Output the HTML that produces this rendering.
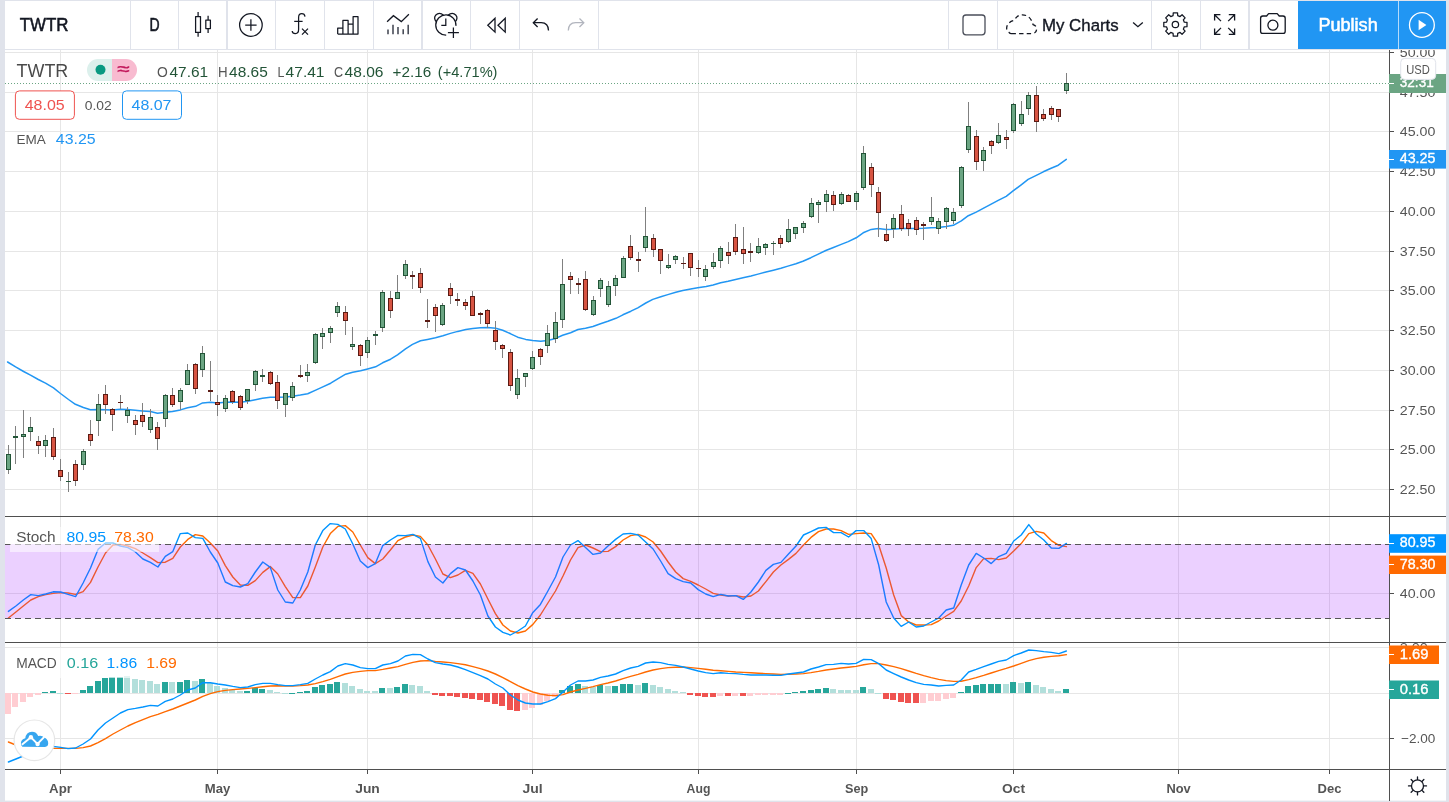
<!DOCTYPE html>
<html lang="en"><head><meta charset="utf-8"><title>TWTR chart</title>
<style>html,body{margin:0;padding:0;background:#e0e3eb;overflow:hidden}svg{display:block}text{font-family:"Liberation Sans", sans-serif;white-space:pre}</style>
</head><body>
<svg width="1449" height="802" viewBox="0 0 1449 802">
<rect width="1449" height="802" fill="#e0e3eb"/>
<rect x="5" y="1" width="1441" height="799.6" fill="#fff"/>
<defs><clipPath id="plot"><rect x="5" y="50" width="1384" height="720"/></clipPath>
<clipPath id="mainp"><rect x="5" y="50" width="1384" height="466"/></clipPath>
<clipPath id="stp"><rect x="5" y="517" width="1384" height="125"/></clipPath>
<clipPath id="mcp"><rect x="5" y="644" width="1384" height="125"/></clipPath>
<clipPath id="axc"><rect x="1390" y="50" width="56" height="720"/></clipPath>
</defs>
<g shape-rendering="crispEdges" stroke="#e6e6e6" stroke-width="1">
<line x1="60.5" y1="50" x2="60.5" y2="769"/>
<line x1="217.5" y1="50" x2="217.5" y2="769"/>
<line x1="367.5" y1="50" x2="367.5" y2="769"/>
<line x1="532.5" y1="50" x2="532.5" y2="769"/>
<line x1="698.5" y1="50" x2="698.5" y2="769"/>
<line x1="856.5" y1="50" x2="856.5" y2="769"/>
<line x1="1013.5" y1="50" x2="1013.5" y2="769"/>
<line x1="1178.5" y1="50" x2="1178.5" y2="769"/>
<line x1="1329.5" y1="50" x2="1329.5" y2="769"/>
<line x1="5" y1="52.5" x2="1389" y2="52.5"/>
<line x1="5" y1="92.5" x2="1389" y2="92.5"/>
<line x1="5" y1="131.5" x2="1389" y2="131.5"/>
<line x1="5" y1="171.5" x2="1389" y2="171.5"/>
<line x1="5" y1="211.5" x2="1389" y2="211.5"/>
<line x1="5" y1="251.5" x2="1389" y2="251.5"/>
<line x1="5" y1="290.5" x2="1389" y2="290.5"/>
<line x1="5" y1="330.5" x2="1389" y2="330.5"/>
<line x1="5" y1="370.5" x2="1389" y2="370.5"/>
<line x1="5" y1="410.5" x2="1389" y2="410.5"/>
<line x1="5" y1="449.5" x2="1389" y2="449.5"/>
<line x1="5" y1="489.5" x2="1389" y2="489.5"/>
</g>
<g shape-rendering="crispEdges">
<line x1="5" y1="593.5" x2="1389" y2="593.5" stroke="#e6e6e6" stroke-width="1"/>
<line x1="5" y1="647.5" x2="1389" y2="647.5" stroke="#e6e6e6" stroke-width="1"/>
<line x1="5" y1="693.5" x2="1389" y2="693.5" stroke="#e6e6e6" stroke-width="1"/>
<line x1="5" y1="738.5" x2="1389" y2="738.5" stroke="#e6e6e6" stroke-width="1"/>
</g>
<line x1="5" y1="83.5" x2="1389" y2="83.5" stroke="#6ba583" stroke-width="1" stroke-dasharray="1 2" shape-rendering="crispEdges"/>
<polyline points="7.6,362.0 15.6,366.9 23.6,371.5 30.5,375.1 38.3,379.5 45.5,383.1 53.5,387.9 60.5,393.5 68.5,399.5 75.4,404.3 83.4,407.5 90.4,409.7 98.4,409.5 105.4,409.7 112.4,409.9 120.4,409.3 127.3,409.5 135.3,410.3 142.3,410.9 150.3,411.5 157.5,413.3 165.5,412.3 172.5,411.5 180.4,409.9 187.6,407.7 195.6,406.3 202.6,402.9 210.5,402.3 217.5,402.9 225.5,402.3 232.5,402.1 240.5,402.3 247.9,401.3 255.4,399.7 262.4,398.3 270.4,397.3 277.4,397.3 285.4,397.1 292.8,396.3 300.4,395.1 307.7,393.7 315.7,390.1 322.3,387.1 330.7,383.2 337.7,378.8 345.7,374.2 352.7,372.2 360.6,370.8 367.6,369.0 375.6,366.8 382.6,362.8 390.6,359.2 397.5,354.8 405.5,348.8 412.5,344.4 420.5,340.8 427.5,339.4 435.5,337.8 442.9,335.8 450.4,333.4 457.8,331.4 465.8,329.6 472.8,328.6 480.4,327.8 487.8,327.6 495.7,328.2 502.7,330.2 510.7,333.8 517.7,337.2 525.7,339.4 532.7,340.4 540.7,341.2 547.6,340.4 555.6,338.4 562.6,335.2 570.6,332.7 578.0,329.5 585.5,328.3 592.9,326.5 600.5,323.7 607.9,321.3 615.9,318.3 622.9,314.8 630.9,311.2 637.8,307.8 645.8,303.0 652.8,299.4 660.8,296.8 667.8,294.6 675.8,292.2 682.8,290.4 690.7,289.0 697.7,287.8 706.1,286.6 713.1,285.0 720.7,282.8 728.1,281.2 735.6,279.4 743.0,277.8 751.0,276.0 758.0,274.1 766.0,272.1 773.4,270.3 780.9,268.3 787.9,266.1 795.9,263.7 802.9,261.3 810.9,257.7 818.3,254.1 825.8,250.5 832.8,247.7 841.2,244.4 848.2,241.6 856.2,237.8 863.2,232.8 871.2,229.4 878.1,228.6 886.1,229.4 893.1,229.2 901.1,228.6 908.1,228.6 916.1,228.4 923.3,228.2 931.0,227.8 938.2,227.4 946.2,226.4 953.3,225.3 961.3,220.9 968.3,215.7 976.2,212.1 983.2,208.3 991.2,204.1 998.2,200.3 1006.2,196.3 1013.4,190.7 1021.2,184.8 1028.1,179.4 1036.3,175.4 1043.3,171.8 1051.1,168.2 1058.3,165.2 1066.3,159.4" fill="none" stroke="#2196f3" stroke-width="1.5" stroke-linejoin="round" stroke-linecap="round" clip-path="url(#mainp)"/>
<g shape-rendering="crispEdges" clip-path="url(#mainp)">
<rect x="8" y="445" width="1" height="29" fill="#808080"/>
<rect x="6" y="454" width="5" height="16" fill="#225437"/>
<rect x="7" y="455" width="3" height="14" fill="#6ba583"/>
<rect x="15" y="426" width="1" height="38" fill="#808080"/>
<rect x="13" y="436" width="5" height="2" fill="#225437"/>
<rect x="23" y="410" width="1" height="48" fill="#808080"/>
<rect x="21" y="434" width="5" height="3" fill="#225437"/>
<rect x="22" y="435" width="3" height="1" fill="#6ba583"/>
<rect x="30" y="417" width="1" height="24" fill="#808080"/>
<rect x="28" y="427" width="5" height="5" fill="#225437"/>
<rect x="29" y="428" width="3" height="3" fill="#6ba583"/>
<rect x="38" y="436" width="1" height="18" fill="#808080"/>
<rect x="36" y="441" width="5" height="5" fill="#5b1a13"/>
<rect x="37" y="442" width="3" height="3" fill="#d75442"/>
<rect x="45" y="435" width="1" height="22" fill="#808080"/>
<rect x="43" y="440" width="5" height="6" fill="#225437"/>
<rect x="44" y="441" width="3" height="4" fill="#6ba583"/>
<rect x="53" y="428" width="1" height="32" fill="#808080"/>
<rect x="51" y="437" width="5" height="20" fill="#5b1a13"/>
<rect x="52" y="438" width="3" height="18" fill="#d75442"/>
<rect x="60" y="459" width="1" height="22" fill="#808080"/>
<rect x="58" y="470" width="5" height="7" fill="#5b1a13"/>
<rect x="59" y="471" width="3" height="5" fill="#d75442"/>
<rect x="68" y="472" width="1" height="20" fill="#808080"/>
<rect x="66" y="481" width="5" height="1" fill="#225437"/>
<rect x="75" y="460" width="1" height="26" fill="#808080"/>
<rect x="73" y="464" width="5" height="17" fill="#5b1a13"/>
<rect x="74" y="465" width="3" height="15" fill="#d75442"/>
<rect x="83" y="449" width="1" height="21" fill="#808080"/>
<rect x="81" y="451" width="5" height="14" fill="#225437"/>
<rect x="82" y="452" width="3" height="12" fill="#6ba583"/>
<rect x="90" y="420" width="1" height="26" fill="#808080"/>
<rect x="88" y="434" width="5" height="7" fill="#5b1a13"/>
<rect x="89" y="435" width="3" height="5" fill="#d75442"/>
<rect x="98" y="394" width="1" height="42" fill="#808080"/>
<rect x="96" y="404" width="5" height="17" fill="#225437"/>
<rect x="97" y="405" width="3" height="15" fill="#6ba583"/>
<rect x="105" y="385" width="1" height="29" fill="#808080"/>
<rect x="103" y="394" width="5" height="11" fill="#5b1a13"/>
<rect x="104" y="395" width="3" height="9" fill="#d75442"/>
<rect x="112" y="408" width="1" height="23" fill="#808080"/>
<rect x="110" y="409" width="5" height="6" fill="#5b1a13"/>
<rect x="111" y="410" width="3" height="4" fill="#d75442"/>
<rect x="120" y="395" width="1" height="14" fill="#808080"/>
<rect x="118" y="402" width="5" height="1" fill="#5b1a13"/>
<rect x="127" y="407" width="1" height="16" fill="#808080"/>
<rect x="125" y="410" width="5" height="6" fill="#225437"/>
<rect x="126" y="411" width="3" height="4" fill="#6ba583"/>
<rect x="135" y="415" width="1" height="20" fill="#808080"/>
<rect x="133" y="420" width="5" height="5" fill="#5b1a13"/>
<rect x="134" y="421" width="3" height="3" fill="#d75442"/>
<rect x="142" y="403" width="1" height="24" fill="#808080"/>
<rect x="140" y="415" width="5" height="7" fill="#5b1a13"/>
<rect x="141" y="416" width="3" height="5" fill="#d75442"/>
<rect x="150" y="409" width="1" height="24" fill="#808080"/>
<rect x="148" y="417" width="5" height="13" fill="#225437"/>
<rect x="149" y="418" width="3" height="11" fill="#6ba583"/>
<rect x="157" y="422" width="1" height="28" fill="#808080"/>
<rect x="155" y="427" width="5" height="12" fill="#5b1a13"/>
<rect x="156" y="428" width="3" height="10" fill="#d75442"/>
<rect x="165" y="394" width="1" height="33" fill="#808080"/>
<rect x="163" y="395" width="5" height="24" fill="#225437"/>
<rect x="164" y="396" width="3" height="22" fill="#6ba583"/>
<rect x="172" y="388" width="1" height="19" fill="#808080"/>
<rect x="170" y="395" width="5" height="10" fill="#5b1a13"/>
<rect x="171" y="396" width="3" height="8" fill="#d75442"/>
<rect x="180" y="388" width="1" height="22" fill="#808080"/>
<rect x="178" y="390" width="5" height="12" fill="#225437"/>
<rect x="179" y="391" width="3" height="10" fill="#6ba583"/>
<rect x="187" y="364" width="1" height="21" fill="#808080"/>
<rect x="185" y="370" width="5" height="15" fill="#225437"/>
<rect x="186" y="371" width="3" height="13" fill="#6ba583"/>
<rect x="195" y="363" width="1" height="31" fill="#808080"/>
<rect x="193" y="364" width="5" height="25" fill="#5b1a13"/>
<rect x="194" y="365" width="3" height="23" fill="#d75442"/>
<rect x="202" y="346" width="1" height="31" fill="#808080"/>
<rect x="200" y="353" width="5" height="17" fill="#225437"/>
<rect x="201" y="354" width="3" height="15" fill="#6ba583"/>
<rect x="210" y="361" width="1" height="40" fill="#808080"/>
<rect x="208" y="390" width="5" height="2" fill="#5b1a13"/>
<rect x="217" y="395" width="1" height="21" fill="#808080"/>
<rect x="215" y="402" width="5" height="3" fill="#5b1a13"/>
<rect x="216" y="403" width="3" height="1" fill="#d75442"/>
<rect x="225" y="395" width="1" height="17" fill="#808080"/>
<rect x="223" y="398" width="5" height="11" fill="#225437"/>
<rect x="224" y="399" width="3" height="9" fill="#6ba583"/>
<rect x="232" y="390" width="1" height="14" fill="#808080"/>
<rect x="230" y="391" width="5" height="11" fill="#5b1a13"/>
<rect x="231" y="392" width="3" height="9" fill="#d75442"/>
<rect x="240" y="395" width="1" height="15" fill="#808080"/>
<rect x="238" y="396" width="5" height="12" fill="#5b1a13"/>
<rect x="239" y="397" width="3" height="10" fill="#d75442"/>
<rect x="247" y="389" width="1" height="15" fill="#808080"/>
<rect x="245" y="389" width="5" height="12" fill="#225437"/>
<rect x="246" y="390" width="3" height="10" fill="#6ba583"/>
<rect x="255" y="370" width="1" height="21" fill="#808080"/>
<rect x="253" y="371" width="5" height="14" fill="#225437"/>
<rect x="254" y="372" width="3" height="12" fill="#6ba583"/>
<rect x="262" y="369" width="1" height="13" fill="#808080"/>
<rect x="260" y="375" width="5" height="2" fill="#225437"/>
<rect x="270" y="371" width="1" height="14" fill="#808080"/>
<rect x="268" y="372" width="5" height="12" fill="#5b1a13"/>
<rect x="269" y="373" width="3" height="10" fill="#d75442"/>
<rect x="277" y="375" width="1" height="34" fill="#808080"/>
<rect x="275" y="382" width="5" height="19" fill="#5b1a13"/>
<rect x="276" y="383" width="3" height="17" fill="#d75442"/>
<rect x="285" y="393" width="1" height="24" fill="#808080"/>
<rect x="283" y="393" width="5" height="12" fill="#225437"/>
<rect x="284" y="394" width="3" height="10" fill="#6ba583"/>
<rect x="292" y="382" width="1" height="19" fill="#808080"/>
<rect x="290" y="386" width="5" height="12" fill="#225437"/>
<rect x="291" y="387" width="3" height="10" fill="#6ba583"/>
<rect x="300" y="365" width="1" height="13" fill="#808080"/>
<rect x="298" y="375" width="5" height="2" fill="#5b1a13"/>
<rect x="307" y="364" width="1" height="18" fill="#808080"/>
<rect x="305" y="372" width="5" height="4" fill="#225437"/>
<rect x="306" y="373" width="3" height="2" fill="#6ba583"/>
<rect x="315" y="333" width="1" height="31" fill="#808080"/>
<rect x="313" y="334" width="5" height="29" fill="#225437"/>
<rect x="314" y="335" width="3" height="27" fill="#6ba583"/>
<rect x="322" y="328" width="1" height="21" fill="#808080"/>
<rect x="320" y="333" width="5" height="4" fill="#225437"/>
<rect x="321" y="334" width="3" height="2" fill="#6ba583"/>
<rect x="330" y="326" width="1" height="17" fill="#808080"/>
<rect x="328" y="328" width="5" height="5" fill="#225437"/>
<rect x="329" y="329" width="3" height="3" fill="#6ba583"/>
<rect x="337" y="302" width="1" height="15" fill="#808080"/>
<rect x="335" y="306" width="5" height="7" fill="#225437"/>
<rect x="336" y="307" width="3" height="5" fill="#6ba583"/>
<rect x="345" y="306" width="1" height="29" fill="#808080"/>
<rect x="343" y="312" width="5" height="9" fill="#5b1a13"/>
<rect x="344" y="313" width="3" height="7" fill="#d75442"/>
<rect x="352" y="327" width="1" height="23" fill="#808080"/>
<rect x="350" y="344" width="5" height="3" fill="#225437"/>
<rect x="351" y="345" width="3" height="1" fill="#6ba583"/>
<rect x="360" y="344" width="1" height="22" fill="#808080"/>
<rect x="358" y="345" width="5" height="11" fill="#5b1a13"/>
<rect x="359" y="346" width="3" height="9" fill="#d75442"/>
<rect x="367" y="337" width="1" height="21" fill="#808080"/>
<rect x="365" y="340" width="5" height="13" fill="#225437"/>
<rect x="366" y="341" width="3" height="11" fill="#6ba583"/>
<rect x="375" y="331" width="1" height="14" fill="#808080"/>
<rect x="373" y="334" width="5" height="2" fill="#225437"/>
<rect x="382" y="290" width="1" height="42" fill="#808080"/>
<rect x="380" y="292" width="5" height="36" fill="#225437"/>
<rect x="381" y="293" width="3" height="34" fill="#6ba583"/>
<rect x="390" y="291" width="1" height="27" fill="#808080"/>
<rect x="388" y="298" width="5" height="13" fill="#5b1a13"/>
<rect x="389" y="299" width="3" height="11" fill="#d75442"/>
<rect x="397" y="275" width="1" height="24" fill="#808080"/>
<rect x="395" y="292" width="5" height="7" fill="#225437"/>
<rect x="396" y="293" width="3" height="5" fill="#6ba583"/>
<rect x="405" y="260" width="1" height="19" fill="#808080"/>
<rect x="403" y="264" width="5" height="12" fill="#225437"/>
<rect x="404" y="265" width="3" height="10" fill="#6ba583"/>
<rect x="412" y="271" width="1" height="18" fill="#808080"/>
<rect x="410" y="275" width="5" height="2" fill="#5b1a13"/>
<rect x="420" y="268" width="1" height="25" fill="#808080"/>
<rect x="418" y="273" width="5" height="15" fill="#5b1a13"/>
<rect x="419" y="274" width="3" height="13" fill="#d75442"/>
<rect x="427" y="299" width="1" height="29" fill="#808080"/>
<rect x="425" y="320" width="5" height="2" fill="#5b1a13"/>
<rect x="435" y="304" width="1" height="28" fill="#808080"/>
<rect x="433" y="307" width="5" height="9" fill="#5b1a13"/>
<rect x="434" y="308" width="3" height="7" fill="#d75442"/>
<rect x="442" y="303" width="1" height="23" fill="#808080"/>
<rect x="440" y="305" width="5" height="20" fill="#225437"/>
<rect x="441" y="306" width="3" height="18" fill="#6ba583"/>
<rect x="450" y="283" width="1" height="21" fill="#808080"/>
<rect x="448" y="288" width="5" height="8" fill="#5b1a13"/>
<rect x="449" y="289" width="3" height="6" fill="#d75442"/>
<rect x="457" y="293" width="1" height="13" fill="#808080"/>
<rect x="455" y="299" width="5" height="2" fill="#5b1a13"/>
<rect x="465" y="299" width="1" height="11" fill="#808080"/>
<rect x="463" y="302" width="5" height="4" fill="#5b1a13"/>
<rect x="464" y="303" width="3" height="2" fill="#d75442"/>
<rect x="472" y="291" width="1" height="25" fill="#808080"/>
<rect x="470" y="296" width="5" height="20" fill="#5b1a13"/>
<rect x="471" y="297" width="3" height="18" fill="#d75442"/>
<rect x="480" y="312" width="1" height="12" fill="#808080"/>
<rect x="478" y="313" width="5" height="2" fill="#5b1a13"/>
<rect x="487" y="309" width="1" height="19" fill="#808080"/>
<rect x="485" y="310" width="5" height="14" fill="#5b1a13"/>
<rect x="486" y="311" width="3" height="12" fill="#d75442"/>
<rect x="495" y="321" width="1" height="29" fill="#808080"/>
<rect x="493" y="330" width="5" height="12" fill="#5b1a13"/>
<rect x="494" y="331" width="3" height="10" fill="#d75442"/>
<rect x="502" y="344" width="1" height="14" fill="#808080"/>
<rect x="500" y="345" width="5" height="4" fill="#5b1a13"/>
<rect x="501" y="346" width="3" height="2" fill="#d75442"/>
<rect x="510" y="349" width="1" height="42" fill="#808080"/>
<rect x="508" y="352" width="5" height="34" fill="#5b1a13"/>
<rect x="509" y="353" width="3" height="32" fill="#d75442"/>
<rect x="517" y="369" width="1" height="30" fill="#808080"/>
<rect x="515" y="378" width="5" height="17" fill="#225437"/>
<rect x="516" y="379" width="3" height="15" fill="#6ba583"/>
<rect x="525" y="373" width="1" height="14" fill="#808080"/>
<rect x="523" y="373" width="5" height="4" fill="#225437"/>
<rect x="524" y="374" width="3" height="2" fill="#6ba583"/>
<rect x="532" y="351" width="1" height="19" fill="#808080"/>
<rect x="530" y="357" width="5" height="12" fill="#225437"/>
<rect x="531" y="358" width="3" height="10" fill="#6ba583"/>
<rect x="540" y="348" width="1" height="17" fill="#808080"/>
<rect x="538" y="349" width="5" height="8" fill="#5b1a13"/>
<rect x="539" y="350" width="3" height="6" fill="#d75442"/>
<rect x="547" y="325" width="1" height="28" fill="#808080"/>
<rect x="545" y="333" width="5" height="13" fill="#225437"/>
<rect x="546" y="334" width="3" height="11" fill="#6ba583"/>
<rect x="555" y="312" width="1" height="31" fill="#808080"/>
<rect x="553" y="322" width="5" height="17" fill="#225437"/>
<rect x="554" y="323" width="3" height="15" fill="#6ba583"/>
<rect x="562" y="259" width="1" height="69" fill="#808080"/>
<rect x="560" y="284" width="5" height="36" fill="#225437"/>
<rect x="561" y="285" width="3" height="34" fill="#6ba583"/>
<rect x="570" y="272" width="1" height="22" fill="#808080"/>
<rect x="568" y="276" width="5" height="4" fill="#5b1a13"/>
<rect x="569" y="277" width="3" height="2" fill="#d75442"/>
<rect x="578" y="278" width="1" height="16" fill="#808080"/>
<rect x="576" y="283" width="5" height="2" fill="#5b1a13"/>
<rect x="585" y="271" width="1" height="40" fill="#808080"/>
<rect x="583" y="279" width="5" height="31" fill="#5b1a13"/>
<rect x="584" y="280" width="3" height="29" fill="#d75442"/>
<rect x="593" y="296" width="1" height="20" fill="#808080"/>
<rect x="591" y="300" width="5" height="15" fill="#225437"/>
<rect x="592" y="301" width="3" height="13" fill="#6ba583"/>
<rect x="600" y="278" width="1" height="19" fill="#808080"/>
<rect x="598" y="280" width="5" height="9" fill="#225437"/>
<rect x="599" y="281" width="3" height="7" fill="#6ba583"/>
<rect x="608" y="281" width="1" height="26" fill="#808080"/>
<rect x="606" y="286" width="5" height="19" fill="#225437"/>
<rect x="607" y="287" width="3" height="17" fill="#6ba583"/>
<rect x="615" y="275" width="1" height="21" fill="#808080"/>
<rect x="613" y="278" width="5" height="8" fill="#225437"/>
<rect x="614" y="279" width="3" height="6" fill="#6ba583"/>
<rect x="623" y="256" width="1" height="22" fill="#808080"/>
<rect x="621" y="258" width="5" height="20" fill="#225437"/>
<rect x="622" y="259" width="3" height="18" fill="#6ba583"/>
<rect x="630" y="235" width="1" height="25" fill="#808080"/>
<rect x="628" y="246" width="5" height="12" fill="#5b1a13"/>
<rect x="629" y="247" width="3" height="10" fill="#d75442"/>
<rect x="638" y="252" width="1" height="20" fill="#808080"/>
<rect x="636" y="259" width="5" height="2" fill="#5b1a13"/>
<rect x="645" y="207" width="1" height="45" fill="#808080"/>
<rect x="643" y="236" width="5" height="12" fill="#225437"/>
<rect x="644" y="237" width="3" height="10" fill="#6ba583"/>
<rect x="653" y="234" width="1" height="23" fill="#808080"/>
<rect x="651" y="238" width="5" height="12" fill="#5b1a13"/>
<rect x="652" y="239" width="3" height="10" fill="#d75442"/>
<rect x="660" y="249" width="1" height="25" fill="#808080"/>
<rect x="658" y="249" width="5" height="12" fill="#5b1a13"/>
<rect x="659" y="250" width="3" height="10" fill="#d75442"/>
<rect x="668" y="254" width="1" height="15" fill="#808080"/>
<rect x="666" y="265" width="5" height="3" fill="#225437"/>
<rect x="667" y="266" width="3" height="1" fill="#6ba583"/>
<rect x="675" y="255" width="1" height="9" fill="#808080"/>
<rect x="673" y="256" width="5" height="4" fill="#225437"/>
<rect x="674" y="257" width="3" height="2" fill="#6ba583"/>
<rect x="683" y="257" width="1" height="12" fill="#808080"/>
<rect x="681" y="263" width="5" height="1" fill="#5b1a13"/>
<rect x="690" y="253" width="1" height="23" fill="#808080"/>
<rect x="688" y="253" width="5" height="15" fill="#5b1a13"/>
<rect x="689" y="254" width="3" height="13" fill="#d75442"/>
<rect x="698" y="260" width="1" height="17" fill="#808080"/>
<rect x="696" y="268" width="5" height="1" fill="#5b1a13"/>
<rect x="705" y="265" width="1" height="16" fill="#808080"/>
<rect x="703" y="269" width="5" height="8" fill="#225437"/>
<rect x="704" y="270" width="3" height="6" fill="#6ba583"/>
<rect x="713" y="253" width="1" height="16" fill="#808080"/>
<rect x="711" y="262" width="5" height="5" fill="#225437"/>
<rect x="712" y="263" width="3" height="3" fill="#6ba583"/>
<rect x="720" y="246" width="1" height="22" fill="#808080"/>
<rect x="718" y="248" width="5" height="13" fill="#225437"/>
<rect x="719" y="249" width="3" height="11" fill="#6ba583"/>
<rect x="728" y="242" width="1" height="22" fill="#808080"/>
<rect x="726" y="252" width="5" height="4" fill="#5b1a13"/>
<rect x="727" y="253" width="3" height="2" fill="#d75442"/>
<rect x="735" y="224" width="1" height="31" fill="#808080"/>
<rect x="733" y="237" width="5" height="15" fill="#5b1a13"/>
<rect x="734" y="238" width="3" height="13" fill="#d75442"/>
<rect x="743" y="227" width="1" height="37" fill="#808080"/>
<rect x="741" y="249" width="5" height="5" fill="#5b1a13"/>
<rect x="742" y="250" width="3" height="3" fill="#d75442"/>
<rect x="750" y="243" width="1" height="19" fill="#808080"/>
<rect x="748" y="251" width="5" height="2" fill="#5b1a13"/>
<rect x="758" y="238" width="1" height="16" fill="#808080"/>
<rect x="756" y="246" width="5" height="7" fill="#225437"/>
<rect x="757" y="247" width="3" height="5" fill="#6ba583"/>
<rect x="765" y="243" width="1" height="12" fill="#808080"/>
<rect x="763" y="244" width="5" height="4" fill="#225437"/>
<rect x="764" y="245" width="3" height="2" fill="#6ba583"/>
<rect x="773" y="241" width="1" height="14" fill="#808080"/>
<rect x="771" y="243" width="5" height="1" fill="#225437"/>
<rect x="780" y="235" width="1" height="13" fill="#808080"/>
<rect x="778" y="238" width="5" height="6" fill="#5b1a13"/>
<rect x="779" y="239" width="3" height="4" fill="#d75442"/>
<rect x="788" y="219" width="1" height="24" fill="#808080"/>
<rect x="786" y="229" width="5" height="13" fill="#225437"/>
<rect x="787" y="230" width="3" height="11" fill="#6ba583"/>
<rect x="795" y="227" width="1" height="12" fill="#808080"/>
<rect x="793" y="227" width="5" height="7" fill="#225437"/>
<rect x="794" y="228" width="3" height="5" fill="#6ba583"/>
<rect x="803" y="221" width="1" height="12" fill="#808080"/>
<rect x="801" y="223" width="5" height="5" fill="#225437"/>
<rect x="802" y="224" width="3" height="3" fill="#6ba583"/>
<rect x="811" y="198" width="1" height="20" fill="#808080"/>
<rect x="809" y="203" width="5" height="14" fill="#225437"/>
<rect x="810" y="204" width="3" height="12" fill="#6ba583"/>
<rect x="818" y="200" width="1" height="23" fill="#808080"/>
<rect x="816" y="202" width="5" height="3" fill="#225437"/>
<rect x="817" y="203" width="3" height="1" fill="#6ba583"/>
<rect x="826" y="190" width="1" height="22" fill="#808080"/>
<rect x="824" y="194" width="5" height="8" fill="#225437"/>
<rect x="825" y="195" width="3" height="6" fill="#6ba583"/>
<rect x="833" y="191" width="1" height="20" fill="#808080"/>
<rect x="831" y="195" width="5" height="10" fill="#5b1a13"/>
<rect x="832" y="196" width="3" height="8" fill="#d75442"/>
<rect x="841" y="192" width="1" height="13" fill="#808080"/>
<rect x="839" y="194" width="5" height="10" fill="#225437"/>
<rect x="840" y="195" width="3" height="8" fill="#6ba583"/>
<rect x="848" y="194" width="1" height="8" fill="#808080"/>
<rect x="846" y="195" width="5" height="7" fill="#5b1a13"/>
<rect x="847" y="196" width="3" height="5" fill="#d75442"/>
<rect x="856" y="191" width="1" height="19" fill="#808080"/>
<rect x="854" y="193" width="5" height="9" fill="#225437"/>
<rect x="855" y="194" width="3" height="7" fill="#6ba583"/>
<rect x="863" y="146" width="1" height="44" fill="#808080"/>
<rect x="861" y="153" width="5" height="35" fill="#225437"/>
<rect x="862" y="154" width="3" height="33" fill="#6ba583"/>
<rect x="871" y="163" width="1" height="34" fill="#808080"/>
<rect x="869" y="167" width="5" height="18" fill="#5b1a13"/>
<rect x="870" y="168" width="3" height="16" fill="#d75442"/>
<rect x="878" y="187" width="1" height="50" fill="#808080"/>
<rect x="876" y="192" width="5" height="21" fill="#5b1a13"/>
<rect x="877" y="193" width="3" height="19" fill="#d75442"/>
<rect x="886" y="224" width="1" height="18" fill="#808080"/>
<rect x="884" y="234" width="5" height="7" fill="#5b1a13"/>
<rect x="885" y="235" width="3" height="5" fill="#d75442"/>
<rect x="893" y="214" width="1" height="24" fill="#808080"/>
<rect x="891" y="218" width="5" height="11" fill="#225437"/>
<rect x="892" y="219" width="3" height="9" fill="#6ba583"/>
<rect x="901" y="205" width="1" height="26" fill="#808080"/>
<rect x="899" y="214" width="5" height="15" fill="#5b1a13"/>
<rect x="900" y="215" width="3" height="13" fill="#d75442"/>
<rect x="908" y="219" width="1" height="17" fill="#808080"/>
<rect x="906" y="223" width="5" height="6" fill="#5b1a13"/>
<rect x="907" y="224" width="3" height="4" fill="#d75442"/>
<rect x="916" y="217" width="1" height="18" fill="#808080"/>
<rect x="914" y="220" width="5" height="10" fill="#5b1a13"/>
<rect x="915" y="221" width="3" height="8" fill="#d75442"/>
<rect x="923" y="222" width="1" height="18" fill="#808080"/>
<rect x="921" y="224" width="5" height="2" fill="#5b1a13"/>
<rect x="931" y="197" width="1" height="28" fill="#808080"/>
<rect x="929" y="217" width="5" height="5" fill="#225437"/>
<rect x="930" y="218" width="3" height="3" fill="#6ba583"/>
<rect x="938" y="218" width="1" height="16" fill="#808080"/>
<rect x="936" y="221" width="5" height="8" fill="#225437"/>
<rect x="937" y="222" width="3" height="6" fill="#6ba583"/>
<rect x="946" y="207" width="1" height="22" fill="#808080"/>
<rect x="944" y="208" width="5" height="14" fill="#225437"/>
<rect x="945" y="209" width="3" height="12" fill="#6ba583"/>
<rect x="953" y="208" width="1" height="16" fill="#808080"/>
<rect x="951" y="212" width="5" height="9" fill="#225437"/>
<rect x="952" y="213" width="3" height="7" fill="#6ba583"/>
<rect x="961" y="166" width="1" height="42" fill="#808080"/>
<rect x="959" y="167" width="5" height="39" fill="#225437"/>
<rect x="960" y="168" width="3" height="37" fill="#6ba583"/>
<rect x="968" y="102" width="1" height="51" fill="#808080"/>
<rect x="966" y="126" width="5" height="24" fill="#225437"/>
<rect x="967" y="127" width="3" height="22" fill="#6ba583"/>
<rect x="976" y="130" width="1" height="40" fill="#808080"/>
<rect x="974" y="136" width="5" height="26" fill="#5b1a13"/>
<rect x="975" y="137" width="3" height="24" fill="#d75442"/>
<rect x="983" y="147" width="1" height="24" fill="#808080"/>
<rect x="981" y="150" width="5" height="11" fill="#225437"/>
<rect x="982" y="151" width="3" height="9" fill="#6ba583"/>
<rect x="991" y="140" width="1" height="14" fill="#808080"/>
<rect x="989" y="141" width="5" height="5" fill="#5b1a13"/>
<rect x="990" y="142" width="3" height="3" fill="#d75442"/>
<rect x="998" y="123" width="1" height="21" fill="#808080"/>
<rect x="996" y="135" width="5" height="8" fill="#225437"/>
<rect x="997" y="136" width="3" height="6" fill="#6ba583"/>
<rect x="1006" y="130" width="1" height="19" fill="#808080"/>
<rect x="1004" y="137" width="5" height="3" fill="#5b1a13"/>
<rect x="1005" y="138" width="3" height="1" fill="#d75442"/>
<rect x="1013" y="103" width="1" height="30" fill="#808080"/>
<rect x="1011" y="104" width="5" height="27" fill="#225437"/>
<rect x="1012" y="105" width="3" height="25" fill="#6ba583"/>
<rect x="1021" y="101" width="1" height="25" fill="#808080"/>
<rect x="1019" y="114" width="5" height="10" fill="#225437"/>
<rect x="1020" y="115" width="3" height="8" fill="#6ba583"/>
<rect x="1028" y="92" width="1" height="23" fill="#808080"/>
<rect x="1026" y="95" width="5" height="14" fill="#225437"/>
<rect x="1027" y="96" width="3" height="12" fill="#6ba583"/>
<rect x="1036" y="86" width="1" height="46" fill="#808080"/>
<rect x="1034" y="95" width="5" height="27" fill="#5b1a13"/>
<rect x="1035" y="96" width="3" height="25" fill="#d75442"/>
<rect x="1043" y="109" width="1" height="12" fill="#808080"/>
<rect x="1041" y="114" width="5" height="5" fill="#5b1a13"/>
<rect x="1042" y="115" width="3" height="3" fill="#d75442"/>
<rect x="1051" y="106" width="1" height="14" fill="#808080"/>
<rect x="1049" y="108" width="5" height="7" fill="#5b1a13"/>
<rect x="1050" y="109" width="3" height="5" fill="#d75442"/>
<rect x="1058" y="109" width="1" height="13" fill="#808080"/>
<rect x="1056" y="109" width="5" height="8" fill="#5b1a13"/>
<rect x="1057" y="110" width="3" height="6" fill="#d75442"/>
<rect x="1066" y="73" width="1" height="21" fill="#808080"/>
<rect x="1064" y="83" width="5" height="8" fill="#225437"/>
<rect x="1065" y="84" width="3" height="6" fill="#6ba583"/>
</g>
<polyline points="8.4,618.0 15.9,612.0 23.3,606.0 30.8,600.0 38.3,596.6 45.7,594.6 53.2,593.4 60.7,592.6 68.1,593.0 75.6,594.4 83.1,591.6 90.5,582.4 98.0,567.0 105.5,553.0 113.0,545.0 120.4,544.4 127.9,546.0 135.4,548.6 142.9,553.0 150.4,557.6 157.9,562.6 165.3,562.2 172.8,558.4 180.3,547.0 187.8,539.4 195.3,534.6 202.8,536.0 210.3,543.0 217.8,551.0 225.3,565.6 232.8,577.0 240.3,585.0 247.8,585.4 255.3,580.6 262.8,572.4 270.3,566.6 277.8,574.0 285.3,586.6 292.8,597.6 300.3,597.6 307.8,586.0 315.3,567.0 322.8,547.0 330.3,533.6 337.8,526.4 345.3,525.6 352.8,532.0 360.3,545.0 367.8,557.6 375.3,563.6 382.8,559.0 390.4,550.0 397.9,540.6 405.4,537.0 412.9,535.0 420.4,536.4 427.9,545.0 435.4,559.0 442.9,574.0 450.4,577.6 457.9,575.0 465.4,570.4 472.9,573.4 480.4,584.0 487.9,599.0 495.4,613.6 502.9,625.0 510.4,631.0 517.9,633.0 525.4,631.0 532.9,624.4 540.4,615.0 547.9,603.0 555.5,591.0 563.0,576.0 570.5,560.0 578.0,547.6 585.5,545.0 593.0,548.0 600.5,551.6 608.0,551.4 615.6,546.6 623.1,540.0 630.6,535.6 638.1,534.4 645.6,537.0 653.1,542.0 660.6,551.0 668.1,562.0 675.7,572.0 683.2,578.6 690.7,581.4 698.2,585.0 705.7,589.0 713.2,593.4 720.8,595.0 728.3,596.0 735.8,595.6 743.3,597.0 750.9,596.0 758.4,591.0 765.9,581.6 773.4,572.0 780.9,565.0 788.5,559.4 796.0,553.4 803.5,545.0 811.0,537.4 818.5,531.6 826.1,529.0 833.6,529.0 841.1,530.6 848.6,534.4 856.1,533.6 863.7,533.0 871.2,533.6 878.7,545.0 886.2,568.0 893.7,595.0 901.2,615.6 908.7,622.0 916.2,625.0 923.7,625.0 931.2,624.6 938.7,621.0 946.2,616.0 953.7,611.4 961.2,601.0 968.7,586.0 976.2,567.6 983.7,558.6 991.2,558.4 998.7,559.6 1006.2,558.0 1013.7,551.0 1021.2,543.6 1028.8,533.6 1036.3,531.4 1043.8,533.0 1051.3,540.6 1058.9,545.4 1066.4,546.6" fill="none" stroke="#ff6a00" stroke-width="1.4" stroke-linejoin="round" stroke-linecap="round" clip-path="url(#stp)"/>
<polyline points="8.4,611.4 15.9,606.0 23.3,600.0 30.8,594.6 38.3,595.6 45.7,594.0 53.2,591.8 60.7,592.0 68.1,594.4 75.6,596.6 83.1,583.0 90.5,568.0 98.0,549.4 105.5,543.0 113.0,543.0 120.4,546.0 127.9,547.6 135.4,552.0 142.9,559.0 150.4,562.4 157.9,567.0 165.3,556.4 172.8,551.6 180.3,533.6 187.8,533.0 195.3,537.6 202.8,538.4 210.3,552.0 217.8,563.0 225.3,582.0 232.8,585.6 240.3,587.0 247.8,583.6 255.3,572.0 262.8,562.0 270.3,567.4 277.8,590.0 285.3,602.0 292.8,603.0 300.3,590.0 307.8,572.0 315.3,545.0 322.8,530.6 330.3,523.6 337.8,524.4 345.3,529.0 352.8,544.0 360.3,561.0 367.8,567.6 375.3,563.6 382.8,545.6 390.4,540.0 397.9,535.4 405.4,535.6 412.9,534.4 420.4,538.4 427.9,561.6 435.4,577.0 442.9,583.0 450.4,573.6 457.9,567.6 465.4,570.0 472.9,581.0 480.4,595.0 487.9,616.0 495.4,627.0 502.9,632.4 510.4,635.0 517.9,631.0 525.4,626.0 532.9,612.4 540.4,604.4 547.9,591.0 555.5,577.0 563.0,557.0 570.5,545.0 578.0,540.6 585.5,547.6 593.0,554.4 600.5,553.0 608.0,546.0 615.6,539.4 623.1,534.0 630.6,533.4 638.1,535.0 645.6,542.0 653.1,549.0 660.6,561.0 668.1,573.6 675.7,578.6 683.2,581.6 690.7,583.0 698.2,589.6 705.7,594.0 713.2,596.6 720.8,594.4 728.3,596.0 735.8,595.6 743.3,599.4 750.9,592.0 758.4,582.0 765.9,570.4 773.4,564.4 780.9,562.4 788.5,554.0 796.0,546.0 803.5,535.0 811.0,531.6 818.5,528.0 826.1,527.4 833.6,532.6 841.1,532.6 848.6,537.0 856.1,530.6 863.7,530.6 871.2,538.6 878.7,565.0 886.2,602.0 893.7,618.0 901.2,626.4 908.7,622.0 916.2,627.0 923.7,626.0 931.2,622.0 938.7,618.0 946.2,610.0 953.7,608.0 961.2,585.0 968.7,565.0 976.2,553.4 983.7,558.0 991.2,563.6 998.7,556.6 1006.2,553.4 1013.7,541.0 1021.2,535.0 1028.8,524.6 1036.3,534.0 1043.8,540.0 1051.3,548.0 1058.9,548.4 1066.4,543.4" fill="none" stroke="#0094ff" stroke-width="1.4" stroke-linejoin="round" stroke-linecap="round" clip-path="url(#stp)"/>
<rect x="5" y="544" width="1384" height="74.5" fill="rgb(153,21,255)" fill-opacity="0.2"/>
<g shape-rendering="crispEdges">
<line x1="5" y1="544.5" x2="1389" y2="544.5" stroke="#555" stroke-width="1" stroke-dasharray="5.6 4.4"/>
<line x1="5" y1="618.5" x2="1389" y2="618.5" stroke="#555" stroke-width="1" stroke-dasharray="5.6 4.4"/>
</g>
<g shape-rendering="crispEdges" clip-path="url(#mcp)">
<rect x="5" y="693" width="6" height="21" fill="#ffcdd2"/>
<rect x="12" y="693" width="6" height="14" fill="#ffcdd2"/>
<rect x="20" y="693" width="6" height="9" fill="#ffcdd2"/>
<rect x="27" y="693" width="6" height="4" fill="#ffcdd2"/>
<rect x="35" y="693" width="6" height="2" fill="#ffcdd2"/>
<rect x="42" y="692" width="6" height="1" fill="#26a69a"/>
<rect x="50" y="691" width="6" height="2" fill="#26a69a"/>
<rect x="57" y="693" width="6" height="1" fill="#b2dfdb"/>
<rect x="65" y="693" width="6" height="1" fill="#ef5350"/>
<rect x="72" y="693" width="6" height="1" fill="#ffcdd2"/>
<rect x="80" y="690" width="6" height="3" fill="#26a69a"/>
<rect x="87" y="686" width="6" height="7" fill="#26a69a"/>
<rect x="95" y="681" width="6" height="12" fill="#26a69a"/>
<rect x="102" y="678" width="6" height="15" fill="#26a69a"/>
<rect x="109" y="677" width="6" height="16" fill="#26a69a"/>
<rect x="117" y="677" width="6" height="16" fill="#26a69a"/>
<rect x="124" y="676" width="6" height="17" fill="#b2dfdb"/>
<rect x="132" y="679" width="6" height="14" fill="#b2dfdb"/>
<rect x="139" y="680" width="6" height="13" fill="#b2dfdb"/>
<rect x="147" y="681" width="6" height="12" fill="#b2dfdb"/>
<rect x="154" y="684" width="6" height="9" fill="#b2dfdb"/>
<rect x="162" y="682" width="6" height="11" fill="#26a69a"/>
<rect x="169" y="682" width="6" height="11" fill="#b2dfdb"/>
<rect x="177" y="682" width="6" height="11" fill="#26a69a"/>
<rect x="184" y="680" width="6" height="13" fill="#26a69a"/>
<rect x="192" y="681" width="6" height="12" fill="#b2dfdb"/>
<rect x="199" y="679" width="6" height="14" fill="#26a69a"/>
<rect x="207" y="683" width="6" height="10" fill="#b2dfdb"/>
<rect x="214" y="686" width="6" height="7" fill="#b2dfdb"/>
<rect x="222" y="688" width="6" height="5" fill="#b2dfdb"/>
<rect x="229" y="690" width="6" height="3" fill="#b2dfdb"/>
<rect x="237" y="691" width="6" height="2" fill="#b2dfdb"/>
<rect x="244" y="691" width="6" height="2" fill="#26a69a"/>
<rect x="252" y="688" width="6" height="5" fill="#26a69a"/>
<rect x="259" y="689" width="6" height="4" fill="#26a69a"/>
<rect x="267" y="690" width="6" height="3" fill="#b2dfdb"/>
<rect x="274" y="692" width="6" height="1" fill="#b2dfdb"/>
<rect x="282" y="693" width="6" height="1" fill="#b2dfdb"/>
<rect x="289" y="693" width="6" height="1" fill="#26a69a"/>
<rect x="297" y="692" width="6" height="1" fill="#26a69a"/>
<rect x="304" y="691" width="6" height="2" fill="#26a69a"/>
<rect x="312" y="687" width="6" height="6" fill="#26a69a"/>
<rect x="319" y="685" width="6" height="8" fill="#26a69a"/>
<rect x="327" y="684" width="6" height="9" fill="#26a69a"/>
<rect x="334" y="682" width="6" height="11" fill="#26a69a"/>
<rect x="342" y="683" width="6" height="10" fill="#b2dfdb"/>
<rect x="349" y="686" width="6" height="7" fill="#b2dfdb"/>
<rect x="357" y="689" width="6" height="4" fill="#b2dfdb"/>
<rect x="364" y="691" width="6" height="2" fill="#b2dfdb"/>
<rect x="372" y="691" width="6" height="2" fill="#b2dfdb"/>
<rect x="379" y="688" width="6" height="5" fill="#26a69a"/>
<rect x="387" y="688" width="6" height="5" fill="#b2dfdb"/>
<rect x="394" y="687" width="6" height="6" fill="#26a69a"/>
<rect x="402" y="684" width="6" height="9" fill="#26a69a"/>
<rect x="409" y="685" width="6" height="8" fill="#b2dfdb"/>
<rect x="417" y="686" width="6" height="7" fill="#b2dfdb"/>
<rect x="424" y="691" width="6" height="2" fill="#b2dfdb"/>
<rect x="432" y="693" width="6" height="2" fill="#ef5350"/>
<rect x="439" y="693" width="6" height="3" fill="#ef5350"/>
<rect x="447" y="693" width="6" height="3" fill="#ef5350"/>
<rect x="454" y="693" width="6" height="4" fill="#ef5350"/>
<rect x="462" y="693" width="6" height="5" fill="#ef5350"/>
<rect x="469" y="693" width="6" height="6" fill="#ef5350"/>
<rect x="477" y="693" width="6" height="7" fill="#ef5350"/>
<rect x="484" y="693" width="6" height="9" fill="#ef5350"/>
<rect x="492" y="693" width="6" height="11" fill="#ef5350"/>
<rect x="499" y="693" width="6" height="13" fill="#ef5350"/>
<rect x="507" y="693" width="6" height="17" fill="#ef5350"/>
<rect x="514" y="693" width="6" height="18" fill="#ef5350"/>
<rect x="522" y="693" width="6" height="17" fill="#ffcdd2"/>
<rect x="529" y="693" width="6" height="15" fill="#ffcdd2"/>
<rect x="537" y="693" width="6" height="12" fill="#ffcdd2"/>
<rect x="544" y="693" width="6" height="8" fill="#ffcdd2"/>
<rect x="552" y="693" width="6" height="4" fill="#ffcdd2"/>
<rect x="559" y="690" width="6" height="3" fill="#26a69a"/>
<rect x="567" y="686" width="6" height="7" fill="#26a69a"/>
<rect x="575" y="684" width="6" height="9" fill="#26a69a"/>
<rect x="582" y="686" width="6" height="7" fill="#b2dfdb"/>
<rect x="590" y="687" width="6" height="6" fill="#b2dfdb"/>
<rect x="597" y="685" width="6" height="8" fill="#26a69a"/>
<rect x="605" y="686" width="6" height="7" fill="#b2dfdb"/>
<rect x="612" y="686" width="6" height="7" fill="#26a69a"/>
<rect x="620" y="684" width="6" height="9" fill="#26a69a"/>
<rect x="627" y="684" width="6" height="9" fill="#26a69a"/>
<rect x="635" y="685" width="6" height="8" fill="#b2dfdb"/>
<rect x="642" y="683" width="6" height="10" fill="#26a69a"/>
<rect x="650" y="685" width="6" height="8" fill="#b2dfdb"/>
<rect x="657" y="687" width="6" height="6" fill="#b2dfdb"/>
<rect x="665" y="689" width="6" height="4" fill="#b2dfdb"/>
<rect x="672" y="691" width="6" height="2" fill="#b2dfdb"/>
<rect x="680" y="692" width="6" height="1" fill="#b2dfdb"/>
<rect x="687" y="693" width="6" height="2" fill="#ef5350"/>
<rect x="695" y="693" width="6" height="3" fill="#ef5350"/>
<rect x="702" y="693" width="6" height="4" fill="#ef5350"/>
<rect x="710" y="693" width="6" height="4" fill="#ef5350"/>
<rect x="717" y="693" width="6" height="3" fill="#ffcdd2"/>
<rect x="725" y="693" width="6" height="3" fill="#ef5350"/>
<rect x="732" y="693" width="6" height="3" fill="#ffcdd2"/>
<rect x="740" y="693" width="6" height="3" fill="#ef5350"/>
<rect x="747" y="693" width="6" height="3" fill="#ffcdd2"/>
<rect x="755" y="693" width="6" height="2" fill="#ffcdd2"/>
<rect x="762" y="693" width="6" height="2" fill="#ffcdd2"/>
<rect x="770" y="693" width="6" height="2" fill="#ffcdd2"/>
<rect x="777" y="693" width="6" height="2" fill="#ffcdd2"/>
<rect x="785" y="693" width="6" height="1" fill="#26a69a"/>
<rect x="792" y="692" width="6" height="1" fill="#26a69a"/>
<rect x="800" y="691" width="6" height="2" fill="#26a69a"/>
<rect x="808" y="690" width="6" height="3" fill="#26a69a"/>
<rect x="815" y="689" width="6" height="4" fill="#26a69a"/>
<rect x="823" y="688" width="6" height="5" fill="#26a69a"/>
<rect x="830" y="689" width="6" height="4" fill="#b2dfdb"/>
<rect x="838" y="690" width="6" height="3" fill="#b2dfdb"/>
<rect x="845" y="690" width="6" height="3" fill="#b2dfdb"/>
<rect x="853" y="690" width="6" height="3" fill="#b2dfdb"/>
<rect x="860" y="687" width="6" height="6" fill="#26a69a"/>
<rect x="868" y="689" width="6" height="4" fill="#b2dfdb"/>
<rect x="875" y="693" width="6" height="1" fill="#b2dfdb"/>
<rect x="883" y="693" width="6" height="6" fill="#ef5350"/>
<rect x="890" y="693" width="6" height="7" fill="#ef5350"/>
<rect x="898" y="693" width="6" height="9" fill="#ef5350"/>
<rect x="905" y="693" width="6" height="10" fill="#ef5350"/>
<rect x="913" y="693" width="6" height="10" fill="#ef5350"/>
<rect x="920" y="693" width="6" height="10" fill="#ffcdd2"/>
<rect x="928" y="693" width="6" height="8" fill="#ffcdd2"/>
<rect x="935" y="693" width="6" height="8" fill="#ffcdd2"/>
<rect x="943" y="693" width="6" height="6" fill="#ffcdd2"/>
<rect x="950" y="693" width="6" height="5" fill="#ffcdd2"/>
<rect x="958" y="692" width="6" height="1" fill="#26a69a"/>
<rect x="965" y="686" width="6" height="7" fill="#26a69a"/>
<rect x="973" y="685" width="6" height="8" fill="#26a69a"/>
<rect x="980" y="684" width="6" height="9" fill="#26a69a"/>
<rect x="988" y="684" width="6" height="9" fill="#26a69a"/>
<rect x="995" y="684" width="6" height="9" fill="#26a69a"/>
<rect x="1003" y="684" width="6" height="9" fill="#b2dfdb"/>
<rect x="1010" y="682" width="6" height="11" fill="#26a69a"/>
<rect x="1018" y="683" width="6" height="10" fill="#b2dfdb"/>
<rect x="1025" y="682" width="6" height="11" fill="#26a69a"/>
<rect x="1033" y="685" width="6" height="8" fill="#b2dfdb"/>
<rect x="1040" y="687" width="6" height="6" fill="#b2dfdb"/>
<rect x="1048" y="689" width="6" height="4" fill="#b2dfdb"/>
<rect x="1055" y="691" width="6" height="2" fill="#b2dfdb"/>
<rect x="1063" y="689" width="6" height="4" fill="#26a69a"/>
</g>
<polyline points="8.4,742.0 15.9,745.0 23.3,747.0 30.8,748.0 38.3,748.4 45.7,748.4 53.2,748.4 60.7,748.4 68.1,748.4 75.6,748.4 83.1,747.6 90.5,746.0 98.0,742.6 105.5,738.6 113.0,734.0 120.4,730.0 127.9,726.0 135.4,722.6 142.9,719.6 150.4,716.6 157.9,714.4 165.3,711.6 172.8,709.0 180.3,706.0 187.8,703.0 195.3,700.0 202.8,696.4 210.3,693.6 217.8,691.6 225.3,690.4 232.8,689.6 240.3,689.0 247.8,688.4 255.3,687.6 262.8,686.8 270.3,686.0 277.8,685.8 285.3,686.0 292.8,686.0 300.3,685.6 307.8,685.0 315.3,683.6 322.8,681.6 330.3,679.4 337.8,676.6 345.3,674.0 352.8,672.4 360.3,671.4 367.8,670.6 375.3,670.6 382.8,669.4 390.4,668.0 397.9,666.6 405.4,664.4 412.9,662.4 420.4,661.0 427.9,660.6 435.4,661.4 442.9,662.0 450.4,662.6 457.9,663.6 465.4,664.8 472.9,666.6 480.4,668.6 487.9,671.0 495.4,674.0 502.9,677.6 510.4,681.6 517.9,685.6 525.4,689.0 532.9,692.0 540.4,694.0 547.9,695.2 555.5,695.6 563.0,694.6 570.5,692.0 578.0,690.0 585.5,688.4 593.0,686.6 600.5,684.6 608.0,683.0 615.6,681.0 623.1,678.6 630.6,676.4 638.1,674.4 645.6,672.0 653.1,670.0 660.6,668.6 668.1,667.6 675.7,667.2 683.2,667.0 690.7,667.6 698.2,668.4 705.7,669.2 713.2,670.2 720.8,670.8 728.3,671.4 735.8,672.0 743.3,672.4 750.9,672.8 758.4,673.2 765.9,673.6 773.4,674.0 780.9,674.4 788.5,674.2 796.0,674.0 803.5,673.6 811.0,672.6 818.5,671.4 826.1,670.0 833.6,669.0 841.1,668.0 848.6,667.2 856.1,666.4 863.7,664.8 871.2,663.6 878.7,663.6 886.2,665.0 893.7,666.6 901.2,668.6 908.7,671.0 916.2,673.4 923.7,675.6 931.2,677.6 938.7,679.4 946.2,680.6 953.7,681.4 961.2,681.2 968.7,679.6 976.2,677.6 983.7,675.4 991.2,673.0 998.7,670.6 1006.2,668.4 1013.7,666.0 1021.2,663.4 1028.8,660.6 1036.3,658.6 1043.8,657.2 1051.3,656.4 1058.9,655.8 1066.4,654.6" fill="none" stroke="#ff6a00" stroke-width="1.4" stroke-linejoin="round" stroke-linecap="round" clip-path="url(#mcp)"/>
<polyline points="8.4,762.0 15.9,759.0 23.3,756.0 30.8,753.0 38.3,750.0 45.7,747.6 53.2,746.4 60.7,747.4 68.1,748.6 75.6,748.0 83.1,744.0 90.5,739.0 98.0,730.0 105.5,723.0 113.0,718.0 120.4,713.0 127.9,709.6 135.4,708.4 142.9,707.0 150.4,705.4 157.9,706.0 165.3,701.4 172.8,699.0 180.3,695.0 187.8,690.0 195.3,688.0 202.8,682.6 210.3,682.8 217.8,684.0 225.3,685.0 232.8,686.4 240.3,687.6 247.8,687.0 255.3,684.6 262.8,683.4 270.3,683.4 277.8,684.6 285.3,685.6 292.8,685.6 300.3,684.6 307.8,683.4 315.3,679.0 322.8,675.0 330.3,671.6 337.8,666.0 345.3,663.6 352.8,665.0 360.3,667.6 367.8,668.6 375.3,668.6 382.8,665.0 390.4,663.6 397.9,661.0 405.4,656.0 412.9,654.4 420.4,654.6 427.9,659.0 435.4,662.6 442.9,664.0 450.4,665.0 457.9,667.0 465.4,669.6 472.9,672.6 480.4,675.6 487.9,679.0 495.4,684.0 502.9,688.0 510.4,695.0 517.9,700.0 525.4,703.0 532.9,704.0 540.4,704.0 547.9,701.6 555.5,698.6 563.0,692.0 570.5,685.0 578.0,681.0 585.5,681.0 593.0,680.0 600.5,677.4 608.0,676.0 615.6,674.0 623.1,670.6 630.6,668.0 638.1,666.4 645.6,663.0 653.1,662.0 660.6,662.6 668.1,664.4 675.7,665.4 683.2,667.0 690.7,669.0 698.2,671.0 705.7,672.6 713.2,673.6 720.8,672.8 728.3,673.4 735.8,673.6 743.3,674.4 750.9,675.0 758.4,675.0 765.9,675.0 773.4,675.2 780.9,675.4 788.5,674.0 796.0,673.0 803.5,672.0 811.0,669.0 818.5,667.0 826.1,664.6 833.6,664.4 841.1,663.4 848.6,664.0 856.1,663.4 863.7,659.4 871.2,659.6 878.7,663.6 886.2,670.0 893.7,673.6 901.2,677.0 908.7,680.0 916.2,682.6 923.7,684.4 931.2,685.0 938.7,686.0 946.2,685.4 953.7,685.0 961.2,680.0 968.7,672.0 976.2,669.4 983.7,666.6 991.2,664.0 998.7,661.4 1006.2,660.0 1013.7,655.6 1021.2,653.0 1028.8,650.0 1036.3,650.6 1043.8,651.6 1051.3,652.4 1058.9,653.6 1066.4,651.0" fill="none" stroke="#0094ff" stroke-width="1.4" stroke-linejoin="round" stroke-linecap="round" clip-path="url(#mcp)"/>
<g shape-rendering="crispEdges" fill="#4f4f4f">
<rect x="5" y="516" width="1441" height="1"/>
<rect x="5" y="642" width="1441" height="1"/>
<rect x="5" y="769" width="1441" height="1"/>
<rect x="1389" y="50" width="1" height="751"/>
<rect x="1390" y="52" width="4" height="1"/>
<rect x="1390" y="92" width="4" height="1"/>
<rect x="1390" y="131" width="4" height="1"/>
<rect x="1390" y="171" width="4" height="1"/>
<rect x="1390" y="211" width="4" height="1"/>
<rect x="1390" y="251" width="4" height="1"/>
<rect x="1390" y="290" width="4" height="1"/>
<rect x="1390" y="330" width="4" height="1"/>
<rect x="1390" y="370" width="4" height="1"/>
<rect x="1390" y="410" width="4" height="1"/>
<rect x="1390" y="449" width="4" height="1"/>
<rect x="1390" y="489" width="4" height="1"/>
<rect x="1390" y="593" width="4" height="1"/>
<rect x="1390" y="647" width="4" height="1"/>
<rect x="1390" y="693" width="4" height="1"/>
<rect x="1390" y="738" width="4" height="1"/>
<rect x="60" y="770" width="1" height="4"/>
<rect x="217" y="770" width="1" height="4"/>
<rect x="367" y="770" width="1" height="4"/>
<rect x="532" y="770" width="1" height="4"/>
<rect x="698" y="770" width="1" height="4"/>
<rect x="856" y="770" width="1" height="4"/>
<rect x="1013" y="770" width="1" height="4"/>
<rect x="1178" y="770" width="1" height="4"/>
<rect x="1329" y="770" width="1" height="4"/>
</g>
<g clip-path="url(#axc)">
<text x="1399.8" y="56.9" font-size="13" font-weight="normal" fill="#555555" textLength="35.6" lengthAdjust="spacingAndGlyphs">50.00</text>
<text x="1399.8" y="96.9" font-size="13" font-weight="normal" fill="#555555" textLength="35.6" lengthAdjust="spacingAndGlyphs">47.50</text>
<text x="1399.8" y="135.9" font-size="13" font-weight="normal" fill="#555555" textLength="35.6" lengthAdjust="spacingAndGlyphs">45.00</text>
<text x="1399.8" y="175.9" font-size="13" font-weight="normal" fill="#555555" textLength="35.6" lengthAdjust="spacingAndGlyphs">42.50</text>
<text x="1399.8" y="215.9" font-size="13" font-weight="normal" fill="#555555" textLength="35.6" lengthAdjust="spacingAndGlyphs">40.00</text>
<text x="1399.8" y="255.9" font-size="13" font-weight="normal" fill="#555555" textLength="35.6" lengthAdjust="spacingAndGlyphs">37.50</text>
<text x="1399.8" y="294.9" font-size="13" font-weight="normal" fill="#555555" textLength="35.6" lengthAdjust="spacingAndGlyphs">35.00</text>
<text x="1399.8" y="334.9" font-size="13" font-weight="normal" fill="#555555" textLength="35.6" lengthAdjust="spacingAndGlyphs">32.50</text>
<text x="1399.8" y="374.9" font-size="13" font-weight="normal" fill="#555555" textLength="35.6" lengthAdjust="spacingAndGlyphs">30.00</text>
<text x="1399.8" y="414.9" font-size="13" font-weight="normal" fill="#555555" textLength="35.6" lengthAdjust="spacingAndGlyphs">27.50</text>
<text x="1399.8" y="453.9" font-size="13" font-weight="normal" fill="#555555" textLength="35.6" lengthAdjust="spacingAndGlyphs">25.00</text>
<text x="1399.8" y="493.9" font-size="13" font-weight="normal" fill="#555555" textLength="35.6" lengthAdjust="spacingAndGlyphs">22.50</text>
<text x="1399.8" y="598.2" font-size="13" font-weight="normal" fill="#555555" textLength="35.6" lengthAdjust="spacingAndGlyphs">40.00</text>
<text x="1399.8" y="651.9" font-size="13" font-weight="normal" fill="#555555" textLength="28.1" lengthAdjust="spacingAndGlyphs">2.00</text>
<text x="1401.1" y="742.9" font-size="13" font-weight="normal" fill="#555555" textLength="34.3" lengthAdjust="spacingAndGlyphs">−2.00</text>
</g>
<text x="49.1" y="792.6" font-size="12.5" font-weight="bold" fill="#555555" textLength="22.9" lengthAdjust="spacingAndGlyphs">Apr</text>
<text x="204.8" y="792.6" font-size="12.5" font-weight="bold" fill="#555555" textLength="25.5" lengthAdjust="spacingAndGlyphs">May</text>
<text x="355.2" y="792.6" font-size="12.5" font-weight="bold" fill="#555555" textLength="24.6" lengthAdjust="spacingAndGlyphs">Jun</text>
<text x="522.5" y="792.6" font-size="12.5" font-weight="bold" fill="#555555" textLength="20.2" lengthAdjust="spacingAndGlyphs">Jul</text>
<text x="686.6" y="792.6" font-size="12.5" font-weight="bold" fill="#555555" textLength="23.8" lengthAdjust="spacingAndGlyphs">Aug</text>
<text x="845.0" y="792.6" font-size="12.5" font-weight="bold" fill="#555555" textLength="23.2" lengthAdjust="spacingAndGlyphs">Sep</text>
<text x="1002.1" y="792.6" font-size="12.5" font-weight="bold" fill="#555555" textLength="23.0" lengthAdjust="spacingAndGlyphs">Oct</text>
<text x="1166.4" y="792.6" font-size="12.5" font-weight="bold" fill="#555555" textLength="24.3" lengthAdjust="spacingAndGlyphs">Nov</text>
<text x="1317.6" y="792.6" font-size="12.5" font-weight="bold" fill="#555555" textLength="23.9" lengthAdjust="spacingAndGlyphs">Dec</text>
<rect x="1389" y="74" width="57" height="19" fill="#6ba583"/><rect x="1389" y="83.0" width="5" height="1" fill="#fff" shape-rendering="crispEdges"/><text x="1399.8" y="87.4" font-size="13.8" font-weight="normal" fill="#fff" textLength="33.9" lengthAdjust="spacingAndGlyphs" stroke="#fff" stroke-width="0.35">32:31</text>
<rect x="1389" y="150" width="57" height="18.599999999999994" fill="#2196f3"/><rect x="1389" y="158.8" width="5" height="1" fill="#fff" shape-rendering="crispEdges"/><text x="1399.8" y="163.2" font-size="13.8" font-weight="normal" fill="#fff" textLength="35.6" lengthAdjust="spacingAndGlyphs" stroke="#fff" stroke-width="0.35">43.25</text>
<rect x="1389" y="534.2" width="57" height="18.59999999999991" fill="#0094ff"/><rect x="1389" y="543.0" width="5" height="1" fill="#fff" shape-rendering="crispEdges"/><text x="1399.8" y="547.4" font-size="13.8" font-weight="normal" fill="#fff" textLength="35.6" lengthAdjust="spacingAndGlyphs" stroke="#fff" stroke-width="0.35">80.95</text>
<rect x="1389" y="555.6" width="57" height="18.399999999999977" fill="#ff6a00"/><rect x="1389" y="564.3" width="5" height="1" fill="#fff" shape-rendering="crispEdges"/><text x="1399.8" y="568.7" font-size="13.8" font-weight="normal" fill="#fff" textLength="35.6" lengthAdjust="spacingAndGlyphs" stroke="#fff" stroke-width="0.35">78.30</text>
<rect x="1389" y="645.5" width="50" height="18.5" fill="#ff6a00"/><rect x="1389" y="654.2" width="5" height="1" fill="#fff" shape-rendering="crispEdges"/><text x="1399.8" y="658.6" font-size="13.8" font-weight="normal" fill="#fff" textLength="28.7" lengthAdjust="spacingAndGlyphs" stroke="#fff" stroke-width="0.35">1.69</text>
<rect x="1389" y="680.5" width="50" height="18.5" fill="#26a69a"/><rect x="1389" y="689.2" width="5" height="1" fill="#fff" shape-rendering="crispEdges"/><text x="1399.8" y="693.6" font-size="13.8" font-weight="normal" fill="#fff" textLength="28.7" lengthAdjust="spacingAndGlyphs" stroke="#fff" stroke-width="0.35">0.16</text>
<rect x="1400.7" y="58.4" width="35" height="21" rx="4" fill="#fff" stroke="#e0e3eb" stroke-width="1"/>
<text x="1406.2" y="73.6" font-size="13" font-weight="normal" fill="#555555" textLength="23.6" lengthAdjust="spacingAndGlyphs">USD</text>
<g stroke="#131722" stroke-width="1.3" fill="none" stroke-linecap="round"><circle cx="1417.5" cy="785.9" r="6"/><line x1="1423.80" y1="785.90" x2="1426.50" y2="785.90"/><line x1="1421.95" y1="790.35" x2="1423.86" y2="792.26"/><line x1="1417.50" y1="792.20" x2="1417.50" y2="794.90"/><line x1="1413.05" y1="790.35" x2="1411.14" y2="792.26"/><line x1="1411.20" y1="785.90" x2="1408.50" y2="785.90"/><line x1="1413.05" y1="781.45" x2="1411.14" y2="779.54"/><line x1="1417.50" y1="779.60" x2="1417.50" y2="776.90"/><line x1="1421.95" y1="781.45" x2="1423.86" y2="779.54"/></g>
<text x="16.6" y="76.6" font-size="18" font-weight="normal" fill="#4a4a4a" textLength="51.7" lengthAdjust="spacingAndGlyphs">TWTR</text>
<path d="M98 59H112V81H98A11 11 0 0 1 98 59Z" fill="#dcf0ec"/>
<path d="M112 59H126A11 11 0 0 1 126 81H112Z" fill="#f8bbd0"/>
<circle cx="100.5" cy="69.8" r="5" fill="#089981"/>
<text x="117.4" y="75.2" font-size="18" font-weight="normal" fill="#c2185b" textLength="12.4" lengthAdjust="spacingAndGlyphs" stroke="#c2185b" stroke-width="0.35">≈</text>
<text x="157.1" y="77.2" font-size="15.4" font-weight="normal" fill="#555" textLength="10.8" lengthAdjust="spacingAndGlyphs">O</text>
<text x="169.5" y="77.2" font-size="15.4" font-weight="normal" fill="#225437" textLength="38.6" lengthAdjust="spacingAndGlyphs">47.61</text>
<text x="217.9" y="77.2" font-size="15.4" font-weight="normal" fill="#555" textLength="9.6" lengthAdjust="spacingAndGlyphs">H</text>
<text x="229.1" y="77.2" font-size="15.4" font-weight="normal" fill="#225437" textLength="38.7" lengthAdjust="spacingAndGlyphs">48.65</text>
<text x="277.6" y="77.2" font-size="15.4" font-weight="normal" fill="#555" textLength="6.9" lengthAdjust="spacingAndGlyphs">L</text>
<text x="285.6" y="77.2" font-size="15.4" font-weight="normal" fill="#225437" textLength="38.9" lengthAdjust="spacingAndGlyphs">47.41</text>
<text x="333.9" y="77.2" font-size="15.4" font-weight="normal" fill="#555" textLength="9.1" lengthAdjust="spacingAndGlyphs">C</text>
<text x="344.6" y="77.2" font-size="15.4" font-weight="normal" fill="#225437" textLength="38.9" lengthAdjust="spacingAndGlyphs">48.06</text>
<text x="392.6" y="77.2" font-size="15.4" font-weight="normal" fill="#225437" textLength="38.6" lengthAdjust="spacingAndGlyphs">+2.16</text>
<text x="437.8" y="77.2" font-size="15.4" font-weight="normal" fill="#225437" textLength="59.7" lengthAdjust="spacingAndGlyphs">(+4.71%)</text>
<rect x="15.4" y="90.9" width="59" height="28.4" rx="4" fill="#fff" stroke="#ef5350" stroke-width="1"/>
<text x="24.7" y="109.7" font-size="14.5" font-weight="normal" fill="#ef5350" textLength="40.0" lengthAdjust="spacingAndGlyphs">48.05</text>
<text x="84.8" y="109.7" font-size="12.5" font-weight="normal" fill="#555" textLength="27.0" lengthAdjust="spacingAndGlyphs">0.02</text>
<rect x="122.5" y="90.9" width="59" height="28.4" rx="4" fill="#fff" stroke="#2196f3" stroke-width="1"/>
<text x="131.5" y="109.7" font-size="14.5" font-weight="normal" fill="#2196f3" textLength="40.0" lengthAdjust="spacingAndGlyphs">48.07</text>
<text x="16.6" y="144.2" font-size="13.3" font-weight="normal" fill="#555" textLength="29.3" lengthAdjust="spacingAndGlyphs">EMA</text>
<text x="55.8" y="144.2" font-size="13.8" font-weight="normal" fill="#2196f3" textLength="39.8" lengthAdjust="spacingAndGlyphs">43.25</text>
<rect x="10" y="527" width="149" height="25" fill="#fff" fill-opacity="0.55"/>
<text x="16.2" y="541.8" font-size="14.5" font-weight="normal" fill="#555" textLength="39.5" lengthAdjust="spacingAndGlyphs">Stoch</text>
<text x="66.5" y="541.8" font-size="14" font-weight="normal" fill="#0094ff" textLength="39.6" lengthAdjust="spacingAndGlyphs">80.95</text>
<text x="114.2" y="541.8" font-size="14" font-weight="normal" fill="#ff6a00" textLength="39.5" lengthAdjust="spacingAndGlyphs">78.30</text>
<rect x="10" y="648" width="173" height="30" fill="#fff" fill-opacity="0.65"/>
<text x="16.2" y="667.8" font-size="14" font-weight="normal" fill="#555" textLength="40.6" lengthAdjust="spacingAndGlyphs">MACD</text>
<text x="66.8" y="667.8" font-size="14" font-weight="normal" fill="#26a69a" textLength="31.4" lengthAdjust="spacingAndGlyphs">0.16</text>
<text x="106.6" y="667.8" font-size="14" font-weight="normal" fill="#0094ff" textLength="30.5" lengthAdjust="spacingAndGlyphs">1.86</text>
<text x="146.2" y="667.8" font-size="14" font-weight="normal" fill="#ff6a00" textLength="30.6" lengthAdjust="spacingAndGlyphs">1.69</text>
<circle cx="34.4" cy="740.3" r="20.3" fill="#fff" stroke="#e6e6e6" stroke-width="1.2"/>
<g transform="translate(5,710)"><path d="M17.3 36.8 Q15.8 36 15.9 33 Q16 29.6 20.3 28.3 Q21 22 27 21.7 Q31.5 21.7 33.2 26 Q36.5 24.8 39.3 27.6 Q43.3 29.5 43.2 33.6 Q43 36.8 40 37 Z" fill="#37a6ef"/><path d="M16.8 34.8 L25.9 27.3 L32.5 34 L39.3 26.9" fill="none" stroke="#fff" stroke-width="1.9"/><circle cx="25.9" cy="27.2" r="2.2" fill="#fff"/><circle cx="32.6" cy="34.1" r="2.2" fill="#fff"/></g>
<rect x="5" y="1" width="1441" height="48" fill="#fff"/>
<rect x="5" y="49" width="1441" height="1" fill="#e0e3eb"/>
<g fill="#e0e3eb" shape-rendering="crispEdges">
<rect x="130" y="1" width="1" height="48"/>
<rect x="178" y="1" width="1" height="48"/>
<rect x="226" y="1" width="2" height="48"/>
<rect x="275" y="1" width="1" height="48"/>
<rect x="324" y="1" width="1" height="48"/>
<rect x="373" y="1" width="1" height="48"/>
<rect x="421" y="1" width="2" height="48"/>
<rect x="470" y="1" width="1" height="48"/>
<rect x="519" y="1" width="1" height="48"/>
<rect x="598" y="1" width="1" height="48"/>
<rect x="948" y="1" width="1" height="48"/>
<rect x="997" y="1" width="1" height="48"/>
<rect x="1151" y="1" width="1" height="48"/>
<rect x="1200" y="1" width="1" height="48"/>
<rect x="1248" y="1" width="2" height="48"/>
</g>
<text x="19.7" y="30.9" font-size="18" font-weight="normal" fill="#131722" textLength="48.8" lengthAdjust="spacingAndGlyphs" stroke="#131722" stroke-width="0.55">TWTR</text>
<text x="149.6" y="30.9" font-size="18" font-weight="normal" fill="#131722" textLength="10.1" lengthAdjust="spacingAndGlyphs" stroke="#131722" stroke-width="0.55">D</text>
<g fill="none" stroke="#131722" stroke-width="1.25" stroke-linejoin="round" stroke-linecap="butt">
<rect x="195.6" y="16.5" width="4.9" height="15.9"/><path d="M198.1 11.9V16.5M198.1 32.4V36.7"/>
<rect x="205.8" y="20.1" width="4.6" height="8.5"/><path d="M208.1 15.7V20.1M208.1 28.6V33"/>
<circle cx="250.9" cy="25" r="11.3"/><path d="M245.2 25H256.6M250.9 19.2V30.8"/>
<path d="M305 16.6Q304.6 13.7 301.8 13.7Q298.6 13.7 298.6 17.4V29.6Q298.6 33.6 295.4 33.6Q292.4 33.6 292.2 31"/><path d="M294.2 21.4H302.6"/><path d="M302 28.6L308 34.6M308 28.6L302 34.6"/>
<path d="M337.7 34V28H342.9V34M342.9 28V20.4H348.1V34M348.1 24H353.1M353.1 34V16.6H358V34ZM337.7 34H358"/>
</g>
<g fill="none" stroke="#131722" stroke-width="1.3"><path d="M387.1 21.7L393.4 15.7L401.3 21.6L408.9 14.3"/></g>
<g fill="none" stroke="#4a4e59" stroke-width="1.6"><path d="M388 29.5V34.3M393 24.7V34.3M398 27.1V34.3M403.2 29.2V34.3M408.2 24.7V34.3"/></g>
<g fill="none" stroke="#131722" stroke-width="1.25">
<path d="M455.9 25.9A10.1 10.1 0 1 0 446.2 35.1"/>
<path d="M436.2 21.6Q433.4 18 435.6 15.3Q439.2 11.6 443.6 15.2"/>
<path d="M455.4 21.6Q458.2 18 456 15.3Q452.4 11.6 448 15.2"/>
<path d="M445.8 18.5V25.4H441.3"/>
<path d="M447.9 32.6H458.9M453.4 27.4V38.1"/>
</g>
<g fill="none" stroke="#131722" stroke-width="1.3" stroke-linejoin="miter"><path d="M487.8 25.2L495 18.3V32.1Z"/><path d="M498 25.2L505.2 18.3V32.1Z"/></g>
<g fill="none" stroke="#131722" stroke-width="1.3"><path d="M537.6 18.5L533.3 22.7L537.6 27"/><path d="M533.6 22.7H541.2Q548.4 22.9 548.5 30.6"/></g>
<g fill="none" stroke="#b2b5be" stroke-width="1.3"><path d="M579.5 18.5L583.8 22.7L579.5 27"/><path d="M583.5 22.7H575.6Q568.4 22.9 568.3 30.6"/></g>
<rect x="963" y="15" width="22" height="19.8" rx="3" fill="none" stroke="#4a4e59" stroke-width="1.3"/>
<path d="M1011.5 33.7H1032Q1036.6 33.2 1036.6 29Q1036.6 25.6 1033 24.6Q1031.8 19.5 1028.5 16.8Q1025.5 14.7 1022 14.8Q1017 15 1014.2 20.5Q1009 21.5 1007.2 25.5Q1005.6 30 1008.8 32.2Q1010 33.5 1011.5 33.7Z" fill="none" stroke="#131722" stroke-width="1.3" stroke-dasharray="4.4 3.2"/>
<path d="M1133.1 22.4L1137.9 26.7L1142.8 22.4" fill="none" stroke="#131722" stroke-width="1.3"/>
<path d="M1173.10 15.59L1173.25 12.90L1177.55 12.90L1177.70 15.59L1180.07 16.57L1182.08 14.78L1185.12 17.82L1183.33 19.83L1184.31 22.20L1187.00 22.35L1187.00 26.65L1184.31 26.80L1183.33 29.17L1185.12 31.18L1182.08 34.22L1180.07 32.43L1177.70 33.41L1177.55 36.10L1173.25 36.10L1173.10 33.41L1170.73 32.43L1168.72 34.22L1165.68 31.18L1167.47 29.17L1166.49 26.80L1163.80 26.65L1163.80 22.35L1166.49 22.20L1167.47 19.83L1165.68 17.82L1168.72 14.78L1170.73 16.57Z" fill="none" stroke="#131722" stroke-width="1.25" stroke-linejoin="round"/><circle cx="1175.4" cy="24.5" r="3.2" fill="none" stroke="#131722" stroke-width="1.25"/>
<g fill="none" stroke="#131722" stroke-width="1.3"><path d="M1214.6 20.5V14.7H1220.4M1214.6 14.7L1221 21.1"/><path d="M1234.6 20.5V14.7H1228.8M1234.6 14.7L1228.2 21.1"/><path d="M1214.6 28.5V34.3H1220.4M1214.6 34.3L1221 27.9"/><path d="M1234.6 28.5V34.3H1228.8M1234.6 34.3L1228.2 27.9"/></g>
<g fill="none" stroke="#131722" stroke-width="1.3" stroke-linejoin="round"><path d="M1262.8 16H1266.6L1268.6 13.6H1277.2L1279.2 16H1283A2.2 2.2 0 0 1 1285.2 18.2V31.2A2.2 2.2 0 0 1 1283 33.4H1262.8A2.2 2.2 0 0 1 1260.6 31.2V18.2A2.2 2.2 0 0 1 1262.8 16Z"/><circle cx="1272.9" cy="25.2" r="5"/></g>
<text x="1042.0" y="30.8" font-size="16.7" font-weight="normal" fill="#131722" textLength="76.7" lengthAdjust="spacingAndGlyphs" stroke="#131722" stroke-width="0.35">My Charts</text>
<rect x="1298" y="1" width="148" height="48" fill="#2196f3"/>
<rect x="1398" y="1" width="1" height="48" fill="#b5dbfb"/>
<text x="1318.4" y="31.3" font-size="18" font-weight="normal" fill="#fff" textLength="59.3" lengthAdjust="spacingAndGlyphs" stroke="#fff" stroke-width="0.55">Publish</text>
<circle cx="1421.9" cy="25" r="12.4" fill="none" stroke="#fff" stroke-width="1.3"/><path d="M1418.6 19.8V30.2L1426.4 25Z" fill="#fff"/>
</svg></body></html>
